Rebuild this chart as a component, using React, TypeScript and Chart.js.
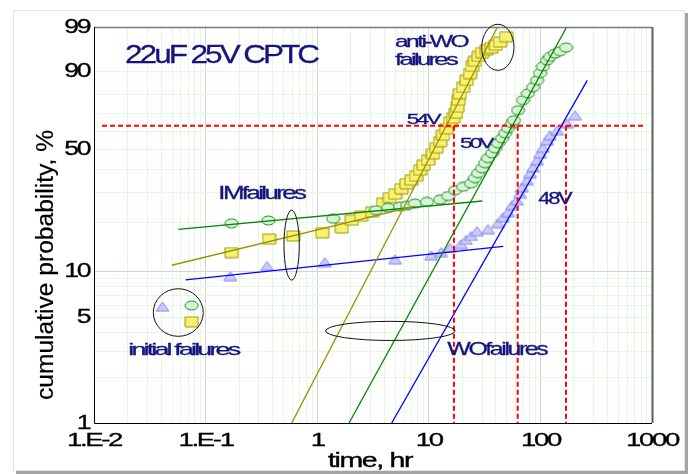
import React, { useEffect, useRef } from 'react';
import { Chart, Scale, registerables } from 'chart.js';

// ---------------- data (time in hours, cumulative probability in %) ----------------
const T54 = [0.075, 0.171, 0.37, 0.611, 1.11, 1.66, 2.04, 2.47, 3.1, 3.89, 4.49, 4.98, 5.69, 6.31, 7.0, 7.68, 8.34, 8.97, 9.84, 10.9, 11.7, 12.6, 13.4, 14.3, 15.5, 16.5, 17.5, 18.1, 18.5, 19.0, 20.3, 21.8, 23.4, 24.4, 25.9, 27.9, 30.0, 33.2, 36.5, 40.0, 43.5, 49.2];
const P54 = [4.7, 13.1, 15.9, 16.6, 17.4, 18.6, 20.7, 21.9, 23.1, 26.0, 28.0, 29.3, 31.4, 33.5, 35.0, 36.7, 39.5, 41.9, 44.4, 47.7, 50.9, 54.2, 57.8, 61.5, 65.2, 67.5, 70.3, 73.6, 77.3, 80.6, 83.6, 86.7, 89.3, 91.8, 93.3, 94.6, 95.5, 96.1, 96.4, 96.9, 97.4, 98.1];

const T50 = [0.075, 0.171, 0.365, 1.39, 3.36, 4.31, 5.52, 6.38, 7.52, 9.63, 12.6, 14.9, 17.2, 20.3, 23.9, 25.9, 27.6, 30.0, 31.9, 33.9, 36.9, 39.2, 41.7, 45.3, 48.2, 51.3, 55.7, 58.0, 63.0, 69.9, 77.4, 85.9, 93.3, 99.2, 105.5, 114.6, 121.9, 135.2, 149.9, 169.6];
const P50 = [6.0, 19.8, 20.6, 21.1, 23.7, 24.5, 24.9, 25.2, 25.9, 26.5, 27.3, 28.6, 30.8, 32.2, 33.6, 35.9, 38.1, 40.4, 42.9, 45.4, 47.9, 50.6, 53.3, 56.1, 58.9, 61.8, 64.6, 66.3, 71.9, 77.3, 80.8, 83.7, 86.7, 89.5, 91.8, 93.6, 94.5, 95.3, 95.8, 96.5];

const T48 = [0.041, 0.166, 0.355, 1.17, 4.98, 10.5, 12.9, 15.5, 19.4, 21.5, 23.9, 27.0, 33.9, 41.7, 46.2, 51.3, 55.7, 61.7, 65.6, 68.4, 75.9, 80.7, 85.9, 93.3, 99.2, 105.5, 114.6, 121.9, 140.9, 173.2, 204.2];
const P48 = [5.9, 9.3, 10.8, 11.4, 11.9, 12.6, 13.2, 14.0, 14.8, 15.7, 16.6, 17.8, 18.3, 19.9, 21.6, 23.1, 25.4, 27.1, 29.7, 32.0, 35.0, 38.1, 40.9, 44.4, 47.9, 50.9, 55.0, 57.8, 60.6, 64.6, 69.1];

// fitted Weibull lines (end points)
const FIT54_IM_T = [0.0497, 7.52];
const FIT54_IM_P = [10.9, 25.0];
const FIT54_WO_T = [0.591, 41.3];
const FIT54_WO_P = [1, 99];
const FIT50_IM_T = [0.0569, 30.2];
const FIT50_IM_P = [18.2, 26.8];
const FIT50_WO_T = [1.93, 172];
const FIT50_WO_P = [1, 99];
const FIT48_IM_T = [0.0663, 46.5];
const FIT48_IM_P = [8.8, 14.3];
const FIT48_WO_T = [4.65, 263];
const FIT48_WO_P = [1, 86.7];

// characteristic-life guide lines
const ETA_LEVEL = 63.2;
const ETA_T = [16.8, 62.6, 169.5];
const ETA_LINE_T = [0.0118, 848];

// axes
const X_MAJOR = [0.01, 0.1, 1, 10, 100, 1000];
const X_LABELS = ['1.E-2', '1.E-1', '1', '10', '100', '1000'];
const Y_MAJOR = [1, 5, 10, 50, 90, 99];
const Y_LABELS = ['1', '5', '10', '50', '90', '99'];
const Y_MINOR = [2, 3, 4, 6, 7, 8, 9, 20, 30, 40, 60, 70, 80];
const X_TITLE = 'time, hr';
const Y_TITLE = 'cumulative probability, %';

// annotations
const NOTE_TEXT = ['22uF 25V CPTC', 'anti-WO', 'failures', '54V', '50V', '48V', 'IMfailures', 'initial failures', 'WOfailures'];
const NOTE_T = [0.019, 4.98, 4.98, 6.34, 19.0, 95.8, 0.13, 0.0203, 14.65];
const NOTE_P = [92.86, 96.6, 92.17, 64.05, 51.0, 25.7, 27.44, 2.835, 2.822];
const NOTE_SIZE = [26, 17, 17, 15, 15, 17, 18, 17, 18.5];
const NOTE_WIDTH = [192, 72, 61, 32, 32, 32, 86, 110, 99];

const RING_T0 = [29.8, 0.504, 0.034, 1.19];
const RING_T1 = [58.0, 0.691, 0.0953, 17.2];
const RING_P0 = [90.5, 8.76, 3.77, 3.54];
const RING_P1 = [99.18, 23.7, 7.71, 4.73];

// ---------------- Weibull probability scale ----------------
const wb = (p: number) => Math.log(-Math.log(1 - p / 100));

class WeibullScale extends Scale {
  static id = 'weibull';
  static defaults = {};
  _wMin = 0;
  _wMax = 1;
  parse(raw: any) {
    return raw === null || raw === undefined ? NaN : +raw;
  }
  determineDataLimits() {
    const { min, max } = (this as any).getUserBounds();
    (this as any).min = min;
    (this as any).max = max;
  }
  buildTicks() {
    const all = [...Y_MAJOR, ...Y_MINOR].sort((a, b) => a - b);
    return all.map((value) => {
      const i = Y_MAJOR.indexOf(value);
      return { value, major: value === 10, lbl: i >= 0 ? Y_LABELS[i] : '' };
    });
  }
  getLabelForValue(v: number) {
    return String(v);
  }
  configure() {
    super.configure();
    this._wMin = wb((this as any).min);
    this._wMax = wb((this as any).max);
  }
  getPixelForValue(v: number) {
    return (this as any).getPixelForDecimal((wb(v) - this._wMin) / (this._wMax - this._wMin));
  }
  getValueForPixel(px: number) {
    const d = (this as any).getDecimalForPixel(px);
    const w = this._wMin + d * (this._wMax - this._wMin);
    return 100 * (1 - Math.exp(-Math.exp(w)));
  }
}

Chart.register(...registerables, WeibullScale as any);

const FONT = '"Liberation Sans", Arial, sans-serif';
const NAVY = '#14147c';

function drawText(ctx: CanvasRenderingContext2D, text: string, x: number, y: number, o: any) {
  ctx.save();
  ctx.font = `${o.bold ? 'bold ' : ''}${o.size}px ${FONT}`;
  (ctx as any).letterSpacing = `${o.ls || 0}px`;
  let sx = o.sx || 1;
  if (o.width) sx = o.width / ctx.measureText(text).width;
  ctx.translate(x, y);
  if (o.rotate) ctx.rotate(o.rotate);
  ctx.scale(sx, 1);
  ctx.textAlign = o.align || 'left';
  ctx.textBaseline = o.baseline || 'alphabetic';
  ctx.fillStyle = o.color || '#000';
  if (o.stroke) {
    ctx.strokeStyle = o.color || '#000';
    ctx.lineWidth = o.stroke;
    ctx.strokeText(text, 0, 0);
  }
  ctx.fillText(text, 0, 0);
  ctx.restore();
}

function makeMarker(kind: string, w: number, h: number, fill: string, stroke: string) {
  const c = document.createElement('canvas');
  c.width = w + 2;
  c.height = h + 2;
  const g = c.getContext('2d')!;
  g.fillStyle = fill;
  g.strokeStyle = stroke;
  g.lineWidth = 1;
  g.beginPath();
  if (kind === 'rect') g.rect(1, 1, w, h);
  else if (kind === 'ellipse') g.ellipse(1 + w / 2, 1 + h / 2, w / 2, h / 2, 0, 0, Math.PI * 2);
  else {
    g.moveTo(1 + w / 2, 1);
    g.lineTo(1 + w, 1 + h);
    g.lineTo(1, 1 + h);
    g.closePath();
  }
  g.fill();
  g.stroke();
  return c;
}

const pts = (t: number[], p: number[]) => t.map((x, i) => ({ x, y: p[i] }));

const decor = {
  id: 'decor',
  beforeDraw(chart: any) {
    const { ctx, width, height } = chart;
    ctx.save();
    ctx.fillStyle = '#fff';
    ctx.fillRect(0, 0, width, height);
    ctx.fillStyle = '#a3a3a3';
    ctx.fillRect(685, 13, 3, 460);
    ctx.fillRect(16, 471, 672, 3);
    ctx.strokeStyle = '#e4e4e4';
    ctx.lineWidth = 1;
    ctx.strokeRect(13.5, 10.5, 671, 460);
    ctx.restore();
  },
  afterDatasetsDraw(chart: any) {
    const { ctx, chartArea: a } = chart;
    const xs = chart.scales.x;
    const ys = chart.scales.y;
    ctx.save();
    // plot frame
    ctx.lineWidth = 1.5;
    ctx.strokeStyle = '#7a7a7a';
    ctx.beginPath();
    ctx.moveTo(a.left, a.top + 0.5);
    ctx.lineTo(a.right, a.top + 0.5);
    ctx.stroke();
    ctx.lineWidth = 2;
    ctx.strokeStyle = '#5e5e5e';
    ctx.beginPath();
    ctx.moveTo(a.right + 0.5, a.top);
    ctx.lineTo(a.right + 0.5, a.bottom);
    ctx.stroke();
    ctx.lineWidth = 1;
    ctx.strokeStyle = '#000';
    ctx.beginPath();
    ctx.moveTo(a.left + 0.5, a.top);
    ctx.lineTo(a.left + 0.5, a.bottom + 0.5);
    ctx.lineTo(a.right, a.bottom + 0.5);
    ctx.stroke();

    // rings
    ctx.strokeStyle = '#111';
    ctx.lineWidth = 1;
    RING_T0.forEach((t0, i) => {
      const x0 = xs.getPixelForValue(t0);
      const x1 = xs.getPixelForValue(RING_T1[i]);
      const y0 = ys.getPixelForValue(RING_P0[i]);
      const y1 = ys.getPixelForValue(RING_P1[i]);
      ctx.beginPath();
      ctx.ellipse((x0 + x1) / 2, (y0 + y1) / 2, Math.abs(x1 - x0) / 2, Math.abs(y1 - y0) / 2, 0, 0, Math.PI * 2);
      ctx.stroke();
    });
    ctx.restore();

    // notes
    NOTE_TEXT.forEach((txt, i) => {
      drawText(ctx, txt, xs.getPixelForValue(NOTE_T[i]), ys.getPixelForValue(NOTE_P[i]), {
        size: NOTE_SIZE[i],
        width: NOTE_WIDTH[i],
        ls: i === 0 ? -2.5 : -1.8,
        color: NAVY,
        stroke: 0.3,
      });
    });

    // tick labels
    xs.ticks.forEach((tk: any) => {
      if (!tk.lbl) return;
      drawText(ctx, tk.lbl, xs.getPixelForValue(tk.value), 445.5, { size: 19, sx: 1.45, ls: -1.6, align: 'center', stroke: 0.3 });
    });
    ys.ticks.forEach((tk: any) => {
      if (!tk.lbl) return;
      drawText(ctx, tk.lbl, 89.5, ys.getPixelForValue(tk.value), { size: 20, sx: 1.33, ls: -1.6, align: 'right', baseline: 'middle', stroke: 0.3 });
    });
    // axis titles
    drawText(ctx, X_TITLE, 370, 467, { size: 21, width: 84, ls: -1, align: 'center', stroke: 0.4 });
    drawText(ctx, Y_TITLE, 47, 265, { size: 23, width: 270, align: 'center', baseline: 'middle', rotate: -Math.PI / 2, stroke: 0.2 });
  },
};

export default function App() {
  const ref = useRef<HTMLCanvasElement>(null);
  useEffect(() => {
    const sq = makeMarker('rect', 13, 10, '#f6f276', '#a59b00');
    const ci = makeMarker('ellipse', 13, 9, '#d6f5d6', '#1f8a1f');
    const tr = makeMarker('tri', 13, 9, '#cbcbff', '#8383ee');
    const marker = (label: string, t: number[], p: number[], img: any, order: number) => ({
      label,
      data: pts(t, p),
      pointStyle: img,
      pointRadius: 5,
      showLine: false,
      order,
    });
    const line = (t: number[], p: number[], color: string, order: number, dash?: number[], w = 1.3) => ({
      data: pts(t, p),
      showLine: true,
      pointRadius: 0,
      borderColor: color,
      borderWidth: w,
      borderDash: dash || [],
      fill: false,
      order,
    });
    const datasets: any[] = [
      marker('54V', T54, P54, sq, 6),
      marker('50V', T50, P50, ci, 5),
      marker('48V', T48, P48, tr, 4),
      line(FIT54_IM_T, FIT54_IM_P, '#9a9200', 2),
      line(FIT54_WO_T, FIT54_WO_P, '#9a9200', 2),
      line(FIT50_IM_T, FIT50_IM_P, '#078407', 2),
      line(FIT50_WO_T, FIT50_WO_P, '#078407', 2),
      line(FIT48_IM_T, FIT48_IM_P, '#0000ff', 2),
      line(FIT48_WO_T, FIT48_WO_P, '#0000ff', 2),
      line(ETA_LINE_T, [ETA_LEVEL, ETA_LEVEL], '#ff0000', 1, [5, 3], 2),
      ...ETA_T.map((t) => line([t, t], [ETA_LEVEL, 1], '#ff0000', 1, [5, 3], 2)),
    ];

    const xTicks: any[] = [];
    X_MAJOR.forEach((m, i) => {
      xTicks.push({ value: m, major: i > 0 && i < X_MAJOR.length - 1, lbl: X_LABELS[i] });
      if (i < X_MAJOR.length - 1) for (let k = 2; k <= 9; k++) xTicks.push({ value: m * k, major: false, lbl: '' });
    });

    const chart = new Chart(ref.current!, {
      type: 'scatter',
      data: { datasets },
      plugins: [decor],
      options: {
        animation: false,
        responsive: false,
        devicePixelRatio: 1,
        events: [],
        layout: { padding: { left: 0, top: 27, right: 36, bottom: 0 } },
        plugins: { legend: { display: false }, tooltip: { enabled: false } },
        scales: {
          x: {
            type: 'logarithmic',
            min: 0.01,
            max: 1000,
            afterBuildTicks: (s: any) => {
              s.ticks = xTicks.map((t) => ({ ...t }));
            },
            afterFit: (s: any) => {
              s.height = 51;
            },
            ticks: { display: false, autoSkip: false, callback: (v: any, i: number, ticks: any[]) => ticks[i].lbl || '' },
            grid: {
              drawTicks: false,
              lineWidth: 1,
              color: (c: any) => (c.tick && c.tick.major ? '#d2d2d2' : '#e3f7e3'),
            },
            border: { display: false },
          },
          y: {
            type: 'weibull' as any,
            min: 1,
            max: 99,
            afterFit: (s: any) => {
              s.width = 94;
            },
            ticks: { display: false, autoSkip: false, callback: (v: any, i: number, ticks: any[]) => ticks[i].lbl || '' },
            grid: {
              drawTicks: false,
              lineWidth: 1,
              color: (c: any) => (c.tick && c.tick.major ? '#d2d2d2' : '#e3f7e3'),
            },
            border: { display: false },
          } as any,
        },
      } as any,
    });
    return () => chart.destroy();
  }, []);
  return (
    <div style={{ position: 'fixed', left: 0, top: 0, width: 688, height: 474 }}>
      <canvas ref={ref} width={688} height={474} style={{ display: 'block', width: 688, height: 474 }} />
    </div>
  );
}
